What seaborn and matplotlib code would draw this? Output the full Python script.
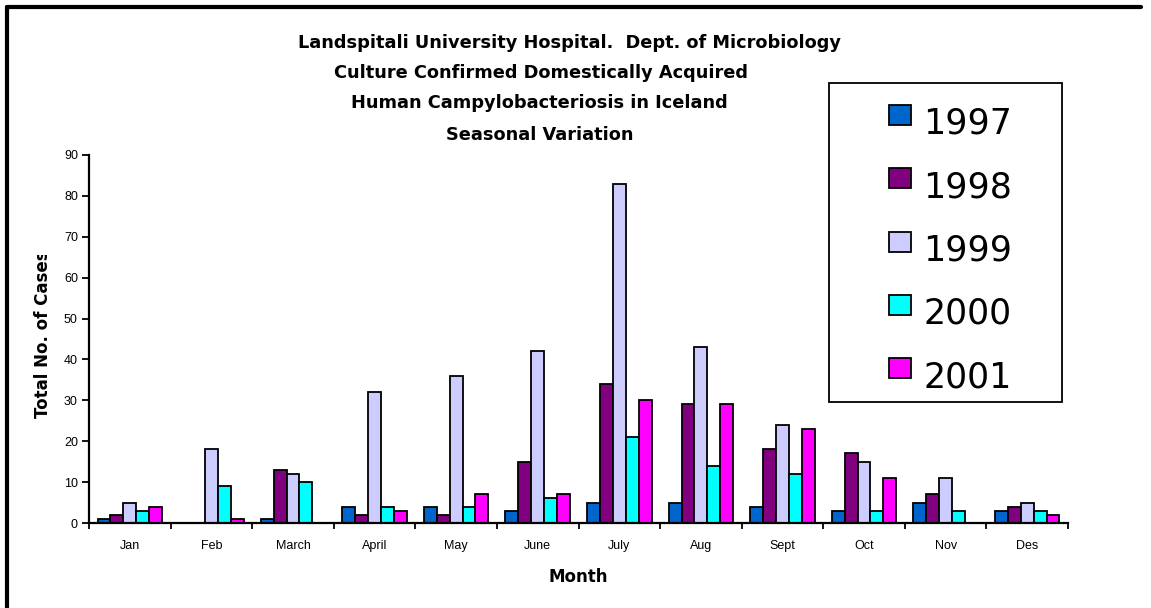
import matplotlib
matplotlib.use("Agg")
import matplotlib.pyplot as plt
import seaborn as sns
import pandas as pd
import numpy as np
from matplotlib.patches import Rectangle
from matplotlib.lines import Line2D
from matplotlib.transforms import Bbox, TransformedBbox

months = ["Jan", "Feb", "March", "April", "May", "June", "July", "Aug", "Sept", "Oct", "Nov", "Des"]
years = ["1997", "1998", "1999", "2000", "2001"]
cases_1997 = [1, 0, 1, 4, 4, 3, 5, 5, 4, 3, 5, 3]
cases_1998 = [2, 0, 13, 2, 2, 15, 34, 29, 18, 17, 7, 4]
cases_1999 = [5, 18, 12, 32, 36, 42, 83, 43, 24, 15, 11, 5]
cases_2000 = [3, 9, 10, 4, 4, 6, 21, 14, 12, 3, 3, 3]
cases_2001 = [4, 1, 0, 3, 7, 7, 30, 29, 23, 11, 0, 2]
colors = ["#0066CC", "#800080", "#CCCCFF", "#00FFFF", "#FF00FF"]

series = [cases_1997, cases_1998, cases_1999, cases_2000, cases_2001]
df = pd.DataFrame({
    "Month": np.tile(months, len(years)),
    "Year": np.repeat(years, len(months)),
    "Cases": np.concatenate(series),
})

sns.set_theme(style="white")
plt.rcParams["font.family"] = ["Liberation Sans", "DejaVu Sans"]
for k in ["text.color", "axes.labelcolor", "xtick.color", "ytick.color", "axes.edgecolor"]:
    plt.rcParams[k] = "black"

BOLD = ["DejaVu Sans"]

W, H = 1151, 608
fig = plt.figure(figsize=(W / 100, H / 100), dpi=100)
ax = fig.add_axes([89 / W, 1 - 523 / H, (1068 - 89) / W, (523 - 155) / H])

sns.barplot(data=df, x="Month", y="Cases", hue="Year", order=months, hue_order=years,
            palette=colors, width=0.79, gap=0, edgecolor="black", linewidth=1.3,
            saturation=1, legend=False, ax=ax, errorbar=None)

ax.set_xlim(-0.5, len(months) - 0.5)
ax.set_ylim(0, 90)
ax.set_yticks(range(0, 91, 10))
ax.tick_params(axis="y", labelsize=9, length=5, width=1.3, direction="out", pad=3, left=True, colors="black")
ax.set_xticks(range(len(months)))
ax.set_xticklabels(months)
ax.tick_params(axis="x", which="major", length=0, labelsize=9, pad=12, colors="black")
ax.set_xticks(np.arange(-0.5, len(months), 1.0), minor=True)
ax.tick_params(axis="x", which="minor", length=4, width=1.3, direction="out", bottom=True, colors="black")
for s in ["top", "right"]:
    ax.spines[s].set_visible(False)
for s in ["left", "bottom"]:
    ax.spines[s].set_color("black")
    ax.spines[s].set_linewidth(1.6)
ax.set_xlabel("")
ax.set_ylabel("")
ax.grid(False)

# axis labels
fig.text(578 / W, 1 - 577 / H, "Month", ha="center", va="center", fontsize=12,
         fontweight="bold", family=BOLD)
yl = fig.text(43 / W, 1 - 334 / H, "Total No. of Cases", ha="center", va="center", rotation=90,
              fontsize=12, fontweight="bold", family=BOLD, clip_on=True)
yl.set_clip_box(TransformedBbox(Bbox([[0, 0], [1, 1 - 255 / H]]), fig.transFigure))

# title lines
title_lines = [("Landspitali University Hospital.  Dept. of Microbiology", 570, 43),
               ("Culture Confirmed Domestically Acquired", 541, 73),
               ("Human Campylobacteriosis in Iceland", 539, 103),
               ("Seasonal Variation", 540, 135)]
for txt, x, y in title_lines:
    fig.text(x / W, 1 - y / H, txt, ha="center", va="center", fontsize=12.8,
             fontweight="bold", family=BOLD)

# legend (drawn manually)
fig.patches.append(Rectangle((829 / W, 1 - 402 / H), (1062 - 829) / W, (402 - 83) / H,
                             transform=fig.transFigure, facecolor="white", edgecolor="black",
                             linewidth=1.3, zorder=5))
for i, (yr, c) in enumerate(zip(years, colors)):
    yc = 124 + i * 63.3
    fig.patches.append(Rectangle((889 / W, 1 - (yc + 1) / H), 22 / W, 20 / H,
                                 transform=fig.transFigure, facecolor=c, edgecolor="black",
                                 linewidth=1.3, zorder=6))
    fig.text(923 / W, 1 - yc / H, yr, ha="left", va="center", fontsize=25, zorder=7,
             family=["DejaVu Sans"])

# outer frame
fig.add_artist(Line2D([7 / W, 7 / W], [0, 1 - 7 / H], transform=fig.transFigure, color="black", linewidth=3))
fig.add_artist(Line2D([7 / W, 1141 / W], [1 - 7 / H, 1 - 7 / H], transform=fig.transFigure, color="black", linewidth=3))

fig.savefig("out.png", dpi=100)
